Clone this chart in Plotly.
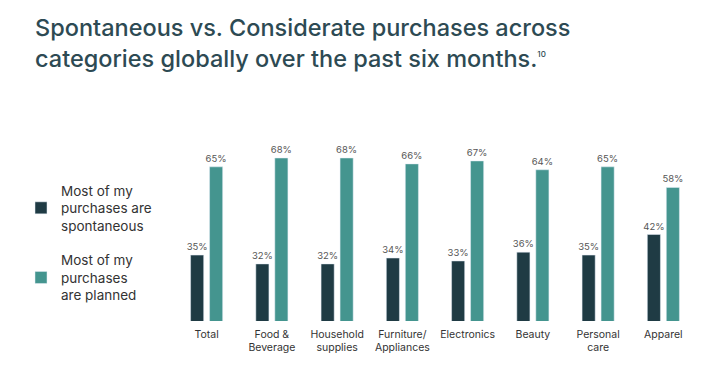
import plotly.graph_objects as go

categories = ["Total", "Food &<br>Beverage", "Household<br>supplies", "Furniture/<br>Appliances",
              "Electronics", "Beauty", "Personal<br>care", "Apparel"]
spontaneous = [35, 32, 32, 34, 33, 36, 35, 42]
planned = [65, 68, 68, 66, 67, 64, 65, 58]
series_names = ["Most of my<br>purchases are<br>spontaneous", "Most of my<br>purchases<br>are planned"]

DARK = "#1F3B44"
TEAL = "#44958F"
FONT = "Inter, Lato, sans-serif"

fig = go.Figure()
fig.add_trace(go.Bar(x=categories, y=spontaneous, name=series_names[0], marker_color=DARK,
                     legendgroup="a",
                     text=[f"{v}%" for v in spontaneous], textposition="outside", constraintext="none",
                     textfont=dict(size=9.5, color="#555555", family=FONT), cliponaxis=False))
fig.add_trace(go.Bar(x=categories, y=planned, name=series_names[1], marker_color=TEAL,
                     legendgroup="b",
                     text=[f"{v}%" for v in planned], textposition="outside", constraintext="none",
                     textfont=dict(size=9.5, color="#555555", family=FONT), cliponaxis=False))

fig.update_layout(
    width=721, height=373,
    paper_bgcolor="white", plot_bgcolor="white",
    margin=dict(l=166, r=33, t=120, b=60),
    barmode="group", bargap=0.418, bargroupgap=0.31,
    font=dict(family=FONT, color="#333333"),
    title=dict(text="Spontaneous vs. Considerate purchases across<br>categories globally over the past six months."
                    "<sup><span style='font-size:8px'>10</span></sup>",
               x=27/721, xanchor="left", xref="container",
               y=1 - 28/373, yanchor="top", yref="container",
               font=dict(size=23.5, color="#2D4A53", family=FONT, weight=500)),
    legend=dict(x=13/721, xref="container", xanchor="left", y=1 - 167/373, yref="container", yanchor="top",
                font=dict(size=13.5, color="#333333", family=FONT), tracegroupgap=14,
                bgcolor="rgba(0,0,0,0)"),
    showlegend=True,
)
fig.update_xaxes(showgrid=False, showline=False, zeroline=False, ticks="", ticklabelstandoff=5,
                 tickfont=dict(size=10.5, color="#333333", family=FONT))
fig.update_yaxes(range=[12.6, 78.2], visible=False, showgrid=False, zeroline=False)

fig.write_html("out.html")
